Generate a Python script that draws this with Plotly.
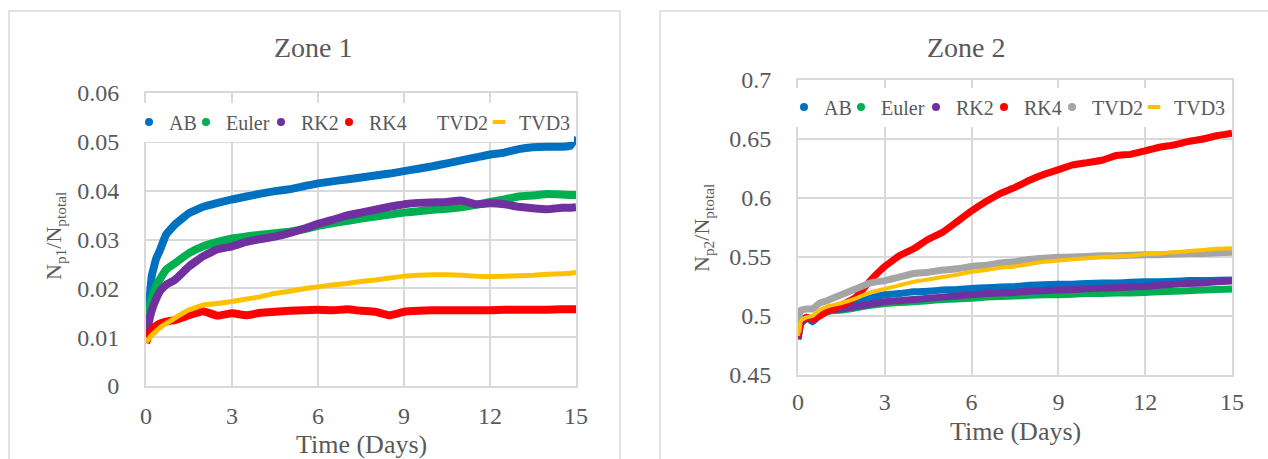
import plotly.graph_objects as go

W, H = 1268, 459

series_names = ["AB", "Euler", "RK2", "RK4", "TVD2", "TVD3"]
series_colors = ["#0070C0", "#00B050", "#7030A0", "#FF0000", "#A5A5A5", "#FFC000"]

# ---------------- Zone 1 ----------------
t1 = [0, 0.1, 0.2, 0.35, 0.5, 0.7, 1, 1.5, 2, 2.5, 3, 3.5, 4, 4.5, 5, 5.5, 6, 6.5, 7, 7.5,
      8, 8.5, 9, 9.5, 10, 10.5, 11, 11.5, 12, 12.5, 13, 13.5, 14, 14.5, 14.8, 15]
z1_ab = [0.009, 0.016, 0.0225, 0.026, 0.028, 0.031, 0.033, 0.0354, 0.0367, 0.0375, 0.0382, 0.0388,
         0.0394, 0.0399, 0.0403, 0.0409, 0.0415, 0.0419, 0.0423, 0.0427, 0.0431, 0.0435, 0.0440,
         0.0445, 0.0450, 0.0456, 0.0462, 0.0468, 0.0474, 0.0478, 0.0485, 0.0489, 0.0490, 0.0490,
         0.0492, 0.0510]
z1_euler = [0.009, 0.015, 0.018, 0.0205, 0.022, 0.0238, 0.0251, 0.0272, 0.0286, 0.0295, 0.0302,
            0.0306, 0.0310, 0.0313, 0.0316, 0.0321, 0.0328, 0.0333, 0.0338, 0.0343, 0.0347, 0.0351,
            0.0355, 0.0358, 0.0361, 0.0363, 0.0366, 0.0371, 0.0377, 0.0382, 0.0388, 0.0390, 0.0393,
            0.0392, 0.0391, 0.0391]
z1_rk2 = [0.009, 0.013, 0.0155, 0.0178, 0.0195, 0.0207, 0.0217, 0.0245, 0.0266, 0.0280, 0.0286,
          0.0295, 0.0301, 0.0306, 0.0313, 0.0322, 0.0332, 0.0340, 0.0349, 0.0355, 0.0361, 0.0367,
          0.0372, 0.0375, 0.0376, 0.0377, 0.0380, 0.0372, 0.0374, 0.0372, 0.0367, 0.0364, 0.0362,
          0.0365, 0.0365, 0.0366]
z1_rk4 = [0.0088, 0.0105, 0.0115, 0.0123, 0.0128, 0.0132, 0.0135, 0.0145, 0.0153, 0.0144, 0.0149,
          0.0145, 0.0150, 0.0152, 0.0154, 0.0155, 0.0156, 0.0155, 0.0157, 0.0154, 0.0152, 0.0145,
          0.0152, 0.0154, 0.0155, 0.0155, 0.0155, 0.0155, 0.0155, 0.0156, 0.0156, 0.0156, 0.0156,
          0.0157, 0.0157, 0.0157]
z1_tvd3 = [0.009, 0.0097, 0.0104, 0.0112, 0.0120, 0.0128, 0.0139, 0.0156, 0.0166, 0.0169, 0.0173,
           0.0178, 0.0183, 0.0190, 0.0194, 0.0199, 0.0203, 0.0207, 0.0210, 0.0214, 0.0217, 0.0221,
           0.0225, 0.0227, 0.0228, 0.0228, 0.0227, 0.0225, 0.0224, 0.0225, 0.0226, 0.0227, 0.0229,
           0.0230, 0.0231, 0.0233]

# ---------------- Zone 2 ----------------
t2 = [0, 0.1, 0.3, 0.5, 0.75, 1, 1.5, 2, 2.5, 3, 3.5, 4, 4.5, 5, 5.5, 6, 6.5, 7, 7.5, 8, 8.5,
      9, 9.5, 10, 10.5, 11, 11.5, 12, 12.5, 13, 13.5, 14, 14.5, 15]
z2_ab = [0.480, 0.494, 0.499, 0.495, 0.501, 0.5035, 0.508, 0.511, 0.515, 0.518, 0.519, 0.5205,
         0.521, 0.522, 0.5225, 0.5234, 0.524, 0.5245, 0.525, 0.526, 0.5265, 0.527, 0.527, 0.5275,
         0.528, 0.528, 0.5285, 0.529, 0.529, 0.5295, 0.530, 0.530, 0.5303, 0.5305]
z2_euler = [0.481, 0.494, 0.498, 0.498, 0.502, 0.504, 0.505, 0.507, 0.509, 0.5105, 0.5115, 0.512,
            0.513, 0.514, 0.5145, 0.515, 0.516, 0.5165, 0.517, 0.5175, 0.518, 0.518, 0.5185, 0.519,
            0.519, 0.5195, 0.5195, 0.520, 0.5205, 0.521, 0.5215, 0.522, 0.5225, 0.5228]
z2_rk2 = [0.481, 0.494, 0.498, 0.498, 0.502, 0.505, 0.506, 0.508, 0.510, 0.512, 0.513, 0.514,
          0.515, 0.516, 0.517, 0.518, 0.519, 0.5195, 0.520, 0.521, 0.5215, 0.522, 0.5225, 0.523,
          0.5235, 0.524, 0.5245, 0.525, 0.526, 0.527, 0.5275, 0.528, 0.529, 0.5297]
z2_rk4 = [0.482, 0.496, 0.499, 0.497, 0.500, 0.504, 0.509, 0.516, 0.530, 0.542, 0.551, 0.557,
          0.565, 0.571, 0.580, 0.589, 0.597, 0.604, 0.609, 0.615, 0.620, 0.624, 0.628, 0.630,
          0.632, 0.636, 0.637, 0.640, 0.643, 0.645, 0.648, 0.650, 0.653, 0.655]
z2_tvd2 = [0.486, 0.505, 0.506, 0.506, 0.511, 0.513, 0.518, 0.523, 0.528, 0.530, 0.533, 0.536,
           0.537, 0.539, 0.540, 0.542, 0.543, 0.545, 0.546, 0.548, 0.549, 0.5497, 0.550, 0.5505,
           0.551, 0.551, 0.5515, 0.552, 0.552, 0.5525, 0.553, 0.553, 0.5535, 0.554]
z2_tvd3 = [0.483, 0.496, 0.499, 0.500, 0.505, 0.508, 0.511, 0.515, 0.520, 0.523, 0.526, 0.529,
           0.531, 0.533, 0.535, 0.5375, 0.539, 0.541, 0.542, 0.544, 0.546, 0.547, 0.548, 0.549,
           0.550, 0.5505, 0.551, 0.5525, 0.553, 0.554, 0.555, 0.556, 0.557, 0.5575]

x_ticks = [0, 3, 6, 9, 12, 15]

FONT = "Liberation Serif, Times New Roman, serif"
TXT = "#595959"
GRID = "#D9D9D9"

# width of the text slot of each legend entry
legend_slot = [12, 30, 23, 23, 37, 50]

fig = go.Figure()

zone1 = [z1_ab, z1_euler, z1_rk2, z1_rk4, None, z1_tvd3]
zone2 = [z2_ab, z2_euler, z2_rk2, z2_rk4, z2_tvd2, z2_tvd3]

for (vals, tt, xa, ya, lg, thick, thin) in [
        (zone1, t1, "x", "y", "legend", 8, 5),
        (zone2, t2, "x2", "y2", "legend2", 7, 4)]:
    for name, col, v in zip(series_names, series_colors, vals):
        if v is not None:
            fig.add_trace(go.Scatter(
                x=tt, y=v, mode="lines", xaxis=xa, yaxis=ya, showlegend=False,
                line=dict(color=col, width=thin if name == "TVD3" else thick, shape="spline",
                          smoothing=0.3),
                hoverinfo="skip"))
    for name, col, v, lw in zip(series_names, series_colors, vals, legend_slot):
        if name == "TVD3":
            mk = dict(symbol="line-ew", size=9, line=dict(color=col, width=4), color=col)
        elif v is None:
            mk = dict(symbol="circle", size=8, color="rgba(0,0,0,0)")
        else:
            mk = dict(symbol="circle", size=8, color=col)
        fig.add_trace(go.Scatter(x=[None], y=[None], mode="markers", name=name,
                                 xaxis=xa, yaxis=ya, legend=lg, marker=mk, legendwidth=lw))

def px_x(p):
    return p / W

def px_y(p):
    return 1 - p / H

axis_common = dict(showgrid=True, gridcolor=GRID, gridwidth=1.5, showline=True, linecolor=GRID,
                   linewidth=2, mirror=True, zeroline=False, ticks="", automargin=False,
                   tickfont=dict(family=FONT, size=24, color=TXT))

def ann(text, x, y, size, angle=0):
    return dict(text=text, x=px_x(x), y=px_y(y), xref="paper", yref="paper",
                xanchor="center", yanchor="middle", showarrow=False, textangle=angle,
                font=dict(family=FONT, size=size, color=TXT))

fig.update_layout(
    width=W, height=H, margin=dict(l=0, r=0, t=0, b=0, autoexpand=False),
    paper_bgcolor="white", plot_bgcolor="white",
    font=dict(family=FONT, color=TXT),
    xaxis=dict(domain=[px_x(146), px_x(576)], range=[0, 15], tickvals=x_ticks,
               anchor="y", ticklabelstandoff=7, **axis_common),
    yaxis=dict(domain=[px_y(386), px_y(93)], range=[0, 0.06], dtick=0.01, tick0=0,
               anchor="x", ticklabelstandoff=20, **axis_common),
    xaxis2=dict(domain=[px_x(798), px_x(1232)], range=[0, 15], tickvals=x_ticks,
                anchor="y2", ticklabelstandoff=4, **axis_common),
    yaxis2=dict(domain=[px_y(375), px_y(80)], range=[0.45, 0.7], dtick=0.05, tick0=0.45,
                anchor="x2", ticklabelstandoff=20, **axis_common),
    legend=dict(orientation="h", x=px_x(129), xanchor="left", y=px_y(122), yanchor="middle",
                bgcolor="white", font=dict(family=FONT, size=20, color=TXT), itemwidth=30,
                traceorder="normal"),
    legend2=dict(orientation="h", x=px_x(784), xanchor="left", y=px_y(107), yanchor="middle",
                 bgcolor="white", font=dict(family=FONT, size=20, color=TXT), itemwidth=30,
                 traceorder="normal"),
    shapes=[
        dict(type="rect", xref="paper", yref="paper", x0=px_x(9), x1=px_x(620), y0=px_y(475),
             y1=px_y(11), line=dict(color=GRID, width=1.5), layer="below"),
        dict(type="rect", xref="paper", yref="paper", x0=px_x(660), x1=px_x(1280), y0=px_y(475),
             y1=px_y(11), line=dict(color=GRID, width=1.5), layer="below"),
    ],
    annotations=[
        ann("Zone 1", 313, 47, 28),
        ann("Zone 2", 966, 47, 28),
        ann("Time (Days)", 361, 444, 26),
        ann("Time (Days)", 1015, 431, 26),
        ann("N<sub>p1</sub>/N<sub>ptotal</sub>", 55, 236, 22, -90),
        ann("N<sub>p2</sub>/N<sub>ptotal</sub>", 703, 228, 22, -90),
    ],
)

fig.write_html("out.html", config={"displayModeBar": False},
               post_script="document.body.style.margin='0';")
